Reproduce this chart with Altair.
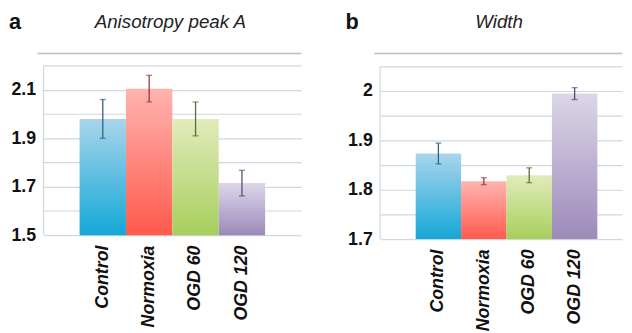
import altair as alt
import pandas as pd

categories = ["Control", "Normoxia", "OGD 60", "OGD 120"]

aniso_mean = [1.98, 2.105, 1.98, 1.715]
aniso_err = [0.08, 0.055, 0.07, 0.053]
width_mean = [1.873, 1.817, 1.829, 1.994]
width_err = [0.021, 0.007, 0.015, 0.012]

aniso_ticks = [1.5, 1.6, 1.7, 1.8, 1.9, 2.0, 2.1, 2.2]
aniso_labels = ["1.5", "1.7", "1.9", "2.1"]
width_ticks = [1.7, 1.75, 1.8, 1.85, 1.9, 1.95, 2.0, 2.05]
width_labels = ["1.7", "1.8", "1.9", "2"]

top_colors = ["#a9d5ec", "#ffb4b0", "#e2ebbb", "#dcd6e8"]
bottom_colors = ["#14a7d6", "#ff5a4c", "#a6cf5c", "#9c8aba"]
err_colors = ["#2f5f86", "#9c3a36", "#5b6b3e", "#5a4c70"]

FONT = "Liberation Sans"
GRID = "#cfd7df"


def panel(means, errs, domain, ticks, shown, title, letter, w, h, pad_outer, align):
    df = pd.DataFrame({
        "cat": categories,
        "mean": means,
        "lo": [m - e for m, e in zip(means, errs)],
        "hi": [m + e for m, e in zip(means, errs)],
        "ecol": err_colors,
    })
    xscale = alt.Scale(type="band", domain=categories, paddingInner=0,
                       paddingOuter=pad_outer, align=align)
    xaxis = alt.Axis(title=None, labelAngle=270, labelFont=FONT, labelFontSize=18,
                     labelFontWeight="bold", labelFontStyle="italic", labelColor="#111111",
                     labelPadding=10, ticks=False, domain=False, grid=False, labelLimit=200)
    yscale = alt.Scale(domain=domain, nice=False, zero=False)
    shown_js = "[" + ",".join("'%s'" % s for s in shown) + "]"
    yaxis = alt.Axis(title=None, values=ticks, format="~g",
                     labelExpr="indexof(%s, datum.label) >= 0 ? datum.label : ''" % shown_js,
                     grid=True, gridColor=GRID, gridWidth=1.2, domain=False, ticks=False,
                     labelFont=FONT, labelFontSize=18, labelFontWeight="bold",
                     labelColor="#111111", labelPadding=8)

    xenc = alt.X("cat:N", sort=categories, scale=xscale, axis=xaxis)

    base = alt.Chart(df)
    layers = []
    for i, c in enumerate(categories):
        grad = alt.LinearGradient(
            gradient="linear",
            stops=[alt.GradientStop(color=top_colors[i], offset=0),
                   alt.GradientStop(color=bottom_colors[i], offset=1)],
            x1=0, x2=0, y1=0, y2=1)
        layers.append(
            base.transform_filter(alt.datum.cat == c)
            .mark_bar(color=grad)
            .encode(
                x=xenc,
                y=alt.Y("mean:Q", scale=yscale, axis=yaxis),
                y2=alt.datum(domain[0]),
            )
        )
    rule = base.mark_rule(strokeWidth=1.3).encode(
        x=xenc, y=alt.Y("lo:Q", scale=yscale, axis=yaxis), y2="hi:Q",
        color=alt.Color("ecol:N", scale=None))
    cap_hi = base.mark_tick(thickness=1.3, size=6, orient="horizontal").encode(
        x=xenc, y=alt.Y("hi:Q", scale=yscale, axis=yaxis),
        color=alt.Color("ecol:N", scale=None))
    cap_lo = base.mark_tick(thickness=1.3, size=6, orient="horizontal").encode(
        x=xenc, y=alt.Y("lo:Q", scale=yscale, axis=yaxis),
        color=alt.Color("ecol:N", scale=None))

    top_df = pd.DataFrame({"v": [domain[1]]})
    top_line = alt.Chart(top_df).mark_rule(color="#b3bfcb", strokeWidth=1.6).encode(
        y=alt.Y("v:Q", scale=yscale, axis=yaxis), x=alt.value(-6), x2=alt.value(w))
    left_line = alt.Chart(pd.DataFrame({"a": [ticks[0]], "b": [ticks[-1]]})).mark_rule(
        color=GRID, strokeWidth=1.2).encode(
        x=alt.value(0), y=alt.Y("a:Q", scale=yscale, axis=yaxis), y2="b:Q")
    letter_txt = alt.Chart(pd.DataFrame({"t": [letter]})).mark_text(
        font=FONT, fontSize=22, fontWeight="bold", align="left", baseline="alphabetic",
        color="#111111").encode(text="t:N", x=alt.value(-35), y=alt.value(-25))
    title_txt = alt.Chart(pd.DataFrame({"t": [title]})).mark_text(
        font=FONT, fontSize=19, fontStyle="italic", align="center", baseline="alphabetic",
        color="#222222").encode(text="t:N", x=alt.value(w / 2 - 2), y=alt.value(-26))

    return alt.layer(left_line, top_line, *layers, rule, cap_hi, cap_lo,
                     letter_txt, title_txt).properties(width=w, height=h)


pa = panel(aniso_mean, aniso_err, [1.5, 2.25], aniso_ticks, aniso_labels,
           "Anisotropy peak A", "a", 261, 184, 0.777, 0.5)
pb = panel(width_mean, width_err, [1.7, 2.075], width_ticks, width_labels,
           "Width", "b", 245, 188, 0.663, 0.59)

chart = alt.hconcat(pa, pb, spacing=42).configure(padding=0, background="white").configure_view(
    stroke="transparent")

chart.save("out.html", embed_options={"renderer": "svg", "actions": False})
